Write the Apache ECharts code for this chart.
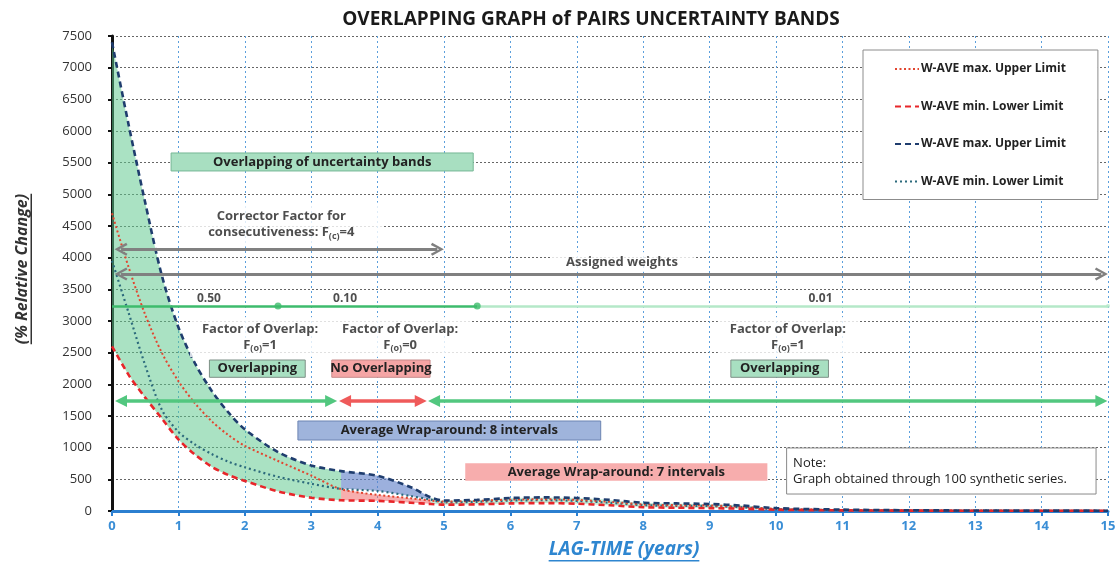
<!DOCTYPE html>
<html>
<head>
<meta charset="utf-8">
<script src="https://cdn.jsdelivr.net/npm/echarts@6/dist/echarts.min.js"></script>
<style>
  html, body { margin: 0; padding: 0; background: #ffffff; }
  #chart { width: 1120px; height: 564px; }
</style>
</head>
<body>
<div id="chart"></div>
<script>
// Lag-time sample points (years) shared by every curve
const lagYears = [0, 0.25, 0.5, 0.75, 1, 1.25, 1.5, 1.75, 2, 2.5, 3, 3.45, 4, 4.5, 4.8, 5, 5.5, 6, 6.5, 7, 7.5, 8, 8.5, 9, 9.5, 10, 11, 12, 13, 14, 15];

// Pair A (red) uncertainty band
const maxUpperA = [4700, 3850, 3100, 2500, 2050, 1700, 1420, 1200, 1030, 790, 560, 345, 255, 200, 165, 150, 160, 180, 185, 175, 145, 105, 92, 88, 66, 34, 16, 9, 6, 5, 4];
const minLowerA = [2600, 2150, 1790, 1460, 1130, 890, 700, 570, 475, 310, 210, 170, 160, 130, 110, 100, 105, 120, 125, 115, 90, 60, 52, 46, 36, 20, 10, 6, 4, 3, 2];

// Pair B (blue) uncertainty band
const maxUpperB = [7400, 6100, 4870, 3720, 2900, 2330, 1900, 1560, 1290, 930, 720, 630, 555, 375, 215, 165, 175, 205, 215, 205, 175, 130, 120, 110, 85, 45, 22, 12, 8, 6, 5];
const minLowerB = [3950, 3130, 2300, 1600, 1250, 1050, 900, 780, 690, 540, 430, 350, 316, 235, 180, 135, 145, 165, 170, 160, 130, 92, 82, 78, 58, 28, 14, 8, 5, 4, 3];

// Legend captions
const legendNames = {
  maxUpperA: 'W-AVE max. Upper Limit',
  minLowerA: 'W-AVE min. Lower Limit',
  maxUpperB: 'W-AVE max. Upper Limit',
  minLowerB: 'W-AVE min. Lower Limit'
};

// Annotation content
const weightLabels = ['0.50', '0.10', '0.01'];
const weightBreaks = [2.5, 5.5];
const overlapFactors = [1, 0, 1];
const overlapStates = ['Overlapping', 'No Overlapping', 'Overlapping'];
const wrapIntervals = [8, 7];
const correctorFactor = 4;
const syntheticSeries = 100;

const yTicks = { min: 0, max: 7500, step: 500 };
const xTicks = { min: 0, max: 15, step: 1 };

const FONT = '"Open Sans", "DejaVu Sans", sans-serif';
const SMOOTH = 0.3;

function pairs(values) {
  return lagYears.map((x, i) => [x, values[i]]);
}

// A filled band between two curves over [from, to], drawn as a stacked area.
// Values come first in each row so that the stacked dimension is the y value.
function bandSeries(key, lower, upper, from, to, fill) {
  const base = [], span = [];
  lagYears.forEach((x, i) => {
    if (x >= from && x <= to) {
      base.push([lower[i], x]);
      span.push([upper[i] - lower[i], x]);
    }
  });
  const common = {
    type: 'line', stack: key, smooth: SMOOTH, symbol: 'none', silent: true,
    encode: { x: 1, y: 0 },
    lineStyle: { width: 0, opacity: 0 }, z: 1, animation: false
  };
  return [
    Object.assign({ name: key + '-base', data: base }, common),
    Object.assign({ name: key + '-fill', data: span, areaStyle: { color: fill, opacity: 1 } }, common)
  ];
}

function limitSeries(name, values, color, width, dash) {
  return {
    name: name, type: 'line', data: pairs(values), smooth: SMOOTH,
    symbol: 'none', z: 3, animation: false,
    lineStyle: { color: color, width: width, type: dash },
    itemStyle: { color: color }
  };
}

const chevron = 'path://M5,0 L10,9 L8.4,10 L5,3.6 L1.6,10 L0,9 Z';
const triangle = 'path://M5,0 L10,10 L0,10 Z';

function arrow(x0, x1, y, color, width, head, size) {
  return [
    { coord: [x0, y], symbol: head, symbolSize: size, lineStyle: { color: color, width: width, type: 'solid' } },
    { coord: [x1, y], symbol: head, symbolSize: size }
  ];
}

function segment(x0, x1, y, color, width) {
  return [
    { coord: [x0, y], symbol: 'none', lineStyle: { color: color, width: width, type: 'solid' } },
    { coord: [x1, y], symbol: 'none' }
  ];
}

function box(p0, p1, text, fill, border, extraLabel) {
  return [
    {
      coord: p0,
      itemStyle: { color: fill, borderColor: border || fill, borderWidth: border ? 1 : 0, opacity: 1 },
      label: Object.assign({
        show: true, position: 'inside', formatter: text,
        fontFamily: FONT, fontSize: 13, fontWeight: 'bold', color: '#222'
      }, extraLabel || {})
    },
    { coord: p1 }
  ];
}

const subRich = {
  s: { fontFamily: FONT, fontSize: 9, fontWeight: 'bold', color: '#222', verticalAlign: 'bottom', lineHeight: 13 }
};

function textItem(x, y, text, extra) {
  return {
    value: [x, y],
    label: Object.assign({
      show: true, position: 'inside', formatter: text,
      fontFamily: FONT, fontSize: 13, fontWeight: 'bold', color: '#222',
      lineHeight: 16, align: 'center', rich: subRich
    }, extra || {})
  };
}

const weightY = 3237;
const overlapCenters = [2.23, 4.34, 10.18];

const annotationTexts = [
  textItem(2.55, 4524, 'Corrector Factor for\nconsecutiveness: F{s|(c)}=' + correctorFactor,
    { backgroundColor: '#ffffff', padding: [6, 28, 6, 28] }),
  textItem(7.68, 3932, 'Assigned weights', { backgroundColor: '#ffffff', padding: [2, 16, 2, 16] }),
  textItem(1.46, 3359, weightLabels[0], { fontSize: 12 }),
  textItem(3.51, 3359, weightLabels[1], { fontSize: 12 }),
  textItem(10.67, 3359, weightLabels[2], { fontSize: 12 })
].concat(overlapCenters.map((cx, i) =>
  textItem(cx, 2747, 'Factor of Overlap:\nF{s|(o)}=' + overlapFactors[i],
    { backgroundColor: '#ffffff', padding: [4, 12, 4, 12] })
));

const series = []
  .concat(bandSeries('bandOverlap', minLowerA, maxUpperB, 0, 3.45, 'rgba(92,200,140,0.52)'))
  .concat(bandSeries('bandB', minLowerB, maxUpperB, 3.45, 4.8, 'rgba(96,128,200,0.62)'))
  .concat(bandSeries('bandA', minLowerA, maxUpperA, 3.45, 4.8, 'rgba(240,100,100,0.52)'))
  .concat(bandSeries('bandTail', minLowerA, maxUpperB, 4.8, 15, 'rgba(92,200,140,0.35)'))
  .concat([
    limitSeries('minLowerB', minLowerB, '#2c6a7c', 2.2, [2, 3]),
    limitSeries('maxUpperA', maxUpperA, '#e2452f', 2, [2, 2.5]),
    limitSeries('minLowerA', minLowerA, '#e8262a', 2.6, [6, 4]),
    limitSeries('maxUpperB', maxUpperB, '#1f3d6e', 2.6, [6, 4]),
    {
      name: 'weightBreaks', type: 'scatter', z: 6, silent: true, animation: false,
      symbol: 'circle', symbolSize: 7, itemStyle: { color: '#3dbb6c' },
      data: weightBreaks.map(x => [x, weightY]).concat([{ value: [15, weightY], symbolSize: 4, itemStyle: { color: '#b5e8c8' } }])
    },
    {
      name: 'annotations', type: 'scatter', z: 8, silent: true, animation: false,
      symbolSize: 0, data: annotationTexts,
      markLine: {
        silent: true, animation: false, symbol: ['none', 'none'], label: { show: false },
        z: 4,
        data: [
          arrow(0.136, 4.90, 4132, '#808080', 3, chevron, [13, 13]),
          arrow(0.136, 14.9, 3742, '#808080', 3, chevron, [13, 13]),
          segment(0, 5.5, weightY, '#3dbb6c', 2.5),
          segment(5.5, 15, weightY, '#b5e8c8', 2.5),
          arrow(0.136, 3.30, 1737, '#52c77f', 3.5, triangle, [12, 12]),
          arrow(3.51, 4.65, 1737, '#ef5a5a', 3.5, triangle, [12, 12]),
          arrow(4.85, 14.9, 1737, '#52c77f', 3.5, triangle, [12, 12])
        ]
      },
      markArea: {
        silent: true, animation: false, z: 5,
        data: [
          box([0.89, 5653], [5.44, 5369], 'Overlapping of uncertainty bands', '#a8dfc1', '#76b795'),
          box([1.467, 2384], [2.91, 2111], overlapStates[0], '#a8dfc1', '#7d8f86'),
          box([3.31, 2384], [4.79, 2111], overlapStates[1], '#f5a5a5', '#c78a8a'),
          box([9.32, 2384], [10.79, 2111], overlapStates[2], '#a8dfc1', '#7d8f86'),
          box([2.80, 1421], [7.36, 1121], 'Average Wrap-around: ' + wrapIntervals[0] + ' intervals', '#9fb4dc', '#6d84b2'),
          box([5.32, 753], [9.87, 478], 'Average Wrap-around: ' + wrapIntervals[1] + ' intervals', '#f7adad', null),
          box([10.16, 995], [14.82, 268], 'Note:\nGraph obtained through ' + syntheticSeries + ' synthetic series.', '#ffffff', '#8a8a8a',
            { position: 'insideLeft', distance: 7, fontWeight: 'normal', fontSize: 13, lineHeight: 16, align: 'left' })
        ]
      }
    }
  ]);

// Width of a string, used to size the underlines of the axis titles
function textWidth(text, font) {
  const ctx = document.createElement('canvas').getContext('2d');
  ctx.font = font;
  return ctx.measureText(text).width;
}

const yName = '(% Relative Change)';
const xName = 'LAG-TIME (years)';
const yNameFont = 'italic bold 16px ' + FONT;
const xNameFont = 'italic bold 19px ' + FONT;
const yNameW = textWidth(yName, yNameFont);
const xNameW = textWidth(xName, xNameFont);

const chart = echarts.init(document.getElementById('chart'), null, { renderer: 'canvas' });

chart.setOption({
  animation: false,
  backgroundColor: '#ffffff',
  title: {
    text: 'OVERLAPPING GRAPH of PAIRS UNCERTAINTY BANDS',
    left: 586, top: 5, textAlign: 'center',
    textStyle: { fontFamily: FONT, fontSize: 19, fontWeight: 'bold', color: '#1a1a1a' }
  },
  grid: { left: 112, right: 12, top: 36, bottom: 53, containLabel: false },
  legend: {
    orient: 'vertical', left: 863, top: 50,
    data: ['maxUpperA', 'minLowerA', 'maxUpperB', 'minLowerB'],
    formatter: name => legendNames[name],
    itemWidth: 24, itemHeight: 14, itemGap: 25.5,
    padding: [13, 32, 12, 31],
    backgroundColor: '#ffffff', borderColor: '#8c8c8c', borderWidth: 1,
    itemStyle: { color: 'transparent', borderWidth: 0, opacity: 0 },
    textStyle: { fontFamily: FONT, fontSize: 12, fontWeight: 'bold', color: '#222', padding: [0, 0, 0, -3] },
    selectedMode: false
  },
  xAxis: {
    type: 'value', min: xTicks.min, max: xTicks.max, interval: xTicks.step,
    axisLine: { show: true, onZero: false, lineStyle: { color: '#2b7fd0', width: 3 } },
    axisTick: { show: true, length: 5, lineStyle: { color: '#2b7fd0', width: 2 } },
    axisLabel: { margin: 9, fontFamily: FONT, fontSize: 13, fontWeight: 'bold', color: '#3a8ed6' },
    splitLine: { show: true, lineStyle: { color: '#5b9fdc', type: [2, 3], width: 1 } }
  },
  yAxis: {
    type: 'value', min: yTicks.min, max: yTicks.max, interval: yTicks.step,
    axisLine: { show: true, lineStyle: { color: '#111111', width: 3 } },
    axisTick: { show: true, length: 4, lineStyle: { color: '#111111', width: 2 } },
    axisLabel: { margin: 20, fontFamily: FONT, fontSize: 13, color: '#333333', formatter: v => String(v) },
    splitLine: { show: true, lineStyle: { color: '#666666', type: [2, 2], width: 1 } }
  },
  graphic: [
    {
      type: 'text', x: 22, y: 269, rotation: Math.PI / 2, z: 10,
      style: { text: yName, font: yNameFont, fill: '#333333', align: 'center', verticalAlign: 'middle' }
    },
    {
      type: 'rect', z: 10,
      shape: { x: 30.5, y: 269 - yNameW / 2, width: 1.5, height: yNameW },
      style: { fill: '#333333' }
    },
    {
      type: 'text', x: 624, y: 550, z: 10,
      style: { text: xName, font: xNameFont, fill: '#2e86d0', align: 'center', verticalAlign: 'middle' }
    },
    {
      type: 'rect', z: 10,
      shape: { x: 624 - xNameW / 2, y: 560, width: xNameW, height: 1.5 },
      style: { fill: '#2e86d0' }
    }
  ],
  series: series
});
</script>
</body>
</html>
